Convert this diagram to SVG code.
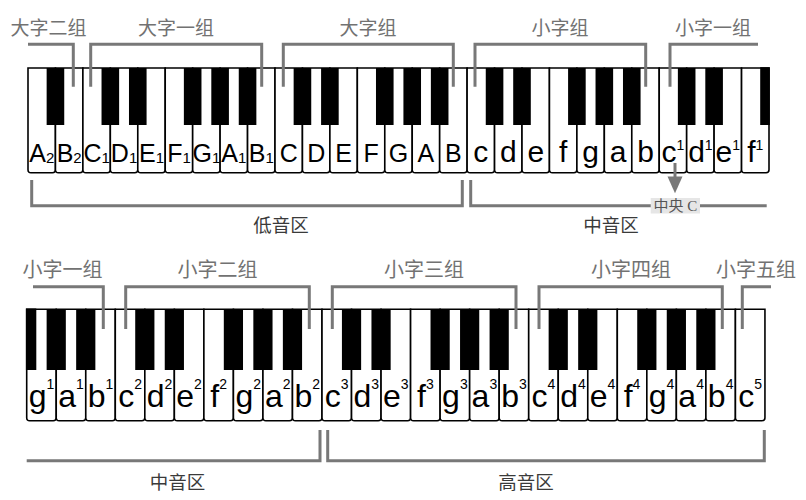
<svg xmlns="http://www.w3.org/2000/svg" xmlns:xlink="http://www.w3.org/1999/xlink" width="806" height="500" viewBox="0 0 806 500">
<style>
.wk{fill:#fff;stroke:#000;stroke-width:1.6}
.bk{fill:#000}
.br{fill:none;stroke:#787878;stroke-width:3}
.grp{font-family:"Noto Sans CJK SC","Noto Sans CJK JP",sans-serif;font-size:19px;fill:#727272;text-anchor:middle}
.grp2{font-size:20px}
.reg{font-family:"Noto Sans CJK SC","Noto Sans CJK JP",sans-serif;font-size:18.5px;fill:#3a3a3a;text-anchor:middle}
.n{font-family:"Liberation Sans","Arial",sans-serif;text-anchor:middle;fill:#000}
.u{font-size:25px}
.l{font-size:30px}
.l2{font-size:32px}
.s{font-size:14px}
.s1{font-size:15px}
</style>
<defs>
<path id="wk1" class="wk" d="M0,0 h27.444 v101.7 q0,3 -3,3 h-21.444 q-3,0 -3,-3 z"/>
<path id="wk2" class="wk" d="M0,0 h29.53 v108.4 q0,3 -3,3 h-23.53 q-3,0 -3,-3 z"/>
<rect id="bk1" class="bk" width="17.6" height="57"/>
<rect id="bk2" class="bk" width="19.2" height="60.7"/>
<linearGradient id="fadeL1" gradientUnits="userSpaceOnUse" x1="26" y1="0" x2="50" y2="0"><stop offset="0" stop-color="#787878" stop-opacity="0.15"/><stop offset="1" stop-color="#787878"/></linearGradient>
<linearGradient id="fadeR1" gradientUnits="userSpaceOnUse" x1="735" y1="0" x2="758" y2="0"><stop offset="0" stop-color="#787878"/><stop offset="1" stop-color="#787878" stop-opacity="0.15"/></linearGradient>
<linearGradient id="fadeL2" gradientUnits="userSpaceOnUse" x1="31" y1="0" x2="56" y2="0"><stop offset="0" stop-color="#787878" stop-opacity="0.15"/><stop offset="1" stop-color="#787878"/></linearGradient>
<linearGradient id="fadeR2" gradientUnits="userSpaceOnUse" x1="748" y1="0" x2="771" y2="0"><stop offset="0" stop-color="#787878"/><stop offset="1" stop-color="#787878" stop-opacity="0.15"/></linearGradient>
</defs>
<rect width="806" height="500" fill="#fff"/>

<g id="keyboard-top">
<g id="top-white-keys">
<use xlink:href="#wk1" x="28" y="68"/><use xlink:href="#wk1" x="55.44" y="68"/><use xlink:href="#wk1" x="82.89" y="68"/><use xlink:href="#wk1" x="110.33" y="68"/><use xlink:href="#wk1" x="137.78" y="68"/><use xlink:href="#wk1" x="165.22" y="68"/><use xlink:href="#wk1" x="192.67" y="68"/><use xlink:href="#wk1" x="220.11" y="68"/><use xlink:href="#wk1" x="247.56" y="68"/><use xlink:href="#wk1" x="275" y="68"/><use xlink:href="#wk1" x="302.44" y="68"/><use xlink:href="#wk1" x="329.89" y="68"/><use xlink:href="#wk1" x="357.33" y="68"/><use xlink:href="#wk1" x="384.78" y="68"/><use xlink:href="#wk1" x="412.22" y="68"/><use xlink:href="#wk1" x="439.67" y="68"/><use xlink:href="#wk1" x="467.11" y="68"/><use xlink:href="#wk1" x="494.56" y="68"/><use xlink:href="#wk1" x="522" y="68"/><use xlink:href="#wk1" x="549.44" y="68"/><use xlink:href="#wk1" x="576.89" y="68"/><use xlink:href="#wk1" x="604.33" y="68"/><use xlink:href="#wk1" x="631.78" y="68"/><use xlink:href="#wk1" x="659.22" y="68"/><use xlink:href="#wk1" x="686.67" y="68"/><use xlink:href="#wk1" x="714.11" y="68"/><use xlink:href="#wk1" x="741.56" y="68"/>
</g>
<g id="top-black-keys">
<use xlink:href="#bk1" x="46.64" y="68"/><use xlink:href="#bk1" x="101.53" y="68"/><use xlink:href="#bk1" x="128.98" y="68"/><use xlink:href="#bk1" x="183.87" y="68"/><use xlink:href="#bk1" x="211.31" y="68"/><use xlink:href="#bk1" x="238.76" y="68"/><use xlink:href="#bk1" x="293.64" y="68"/><use xlink:href="#bk1" x="321.09" y="68"/><use xlink:href="#bk1" x="375.98" y="68"/><use xlink:href="#bk1" x="403.42" y="68"/><use xlink:href="#bk1" x="430.87" y="68"/><use xlink:href="#bk1" x="485.76" y="68"/><use xlink:href="#bk1" x="513.2" y="68"/><use xlink:href="#bk1" x="568.09" y="68"/><use xlink:href="#bk1" x="595.53" y="68"/><use xlink:href="#bk1" x="622.98" y="68"/><use xlink:href="#bk1" x="677.87" y="68"/><use xlink:href="#bk1" x="705.31" y="68"/>
<rect class="bk" x="760.2" y="67.2" width="9.6" height="57.8"/>
</g>
<g id="top-note-names">
<text class="n u" x="41.72" y="162">A<tspan class="s1" dy="1">2</tspan></text>
<text class="n u" x="69.17" y="162">B<tspan class="s1" dy="1">2</tspan></text>
<text class="n u" x="96.61" y="162">C<tspan class="s1" dy="1">1</tspan></text>
<text class="n u" x="124.06" y="162">D<tspan class="s1" dy="1">1</tspan></text>
<text class="n u" x="151.5" y="162">E<tspan class="s1" dy="1">1</tspan></text>
<text class="n u" x="178.94" y="162">F<tspan class="s1" dy="1">1</tspan></text>
<text class="n u" x="206.39" y="162">G<tspan class="s1" dy="1">1</tspan></text>
<text class="n u" x="233.83" y="162">A<tspan class="s1" dy="1">1</tspan></text>
<text class="n u" x="261.28" y="162">B<tspan class="s1" dy="1">1</tspan></text>
<text class="n u" x="288.72" y="162">C</text>
<text class="n u" x="316.17" y="162">D</text>
<text class="n u" x="343.61" y="162">E</text>
<text class="n u" x="371.06" y="162">F</text>
<text class="n u" x="398.5" y="162">G</text>
<text class="n u" x="425.94" y="162">A</text>
<text class="n u" x="453.39" y="162">B</text>
<text class="n l" x="480.83" y="162">c</text>
<text class="n l" x="508.28" y="162">d</text>
<text class="n l" x="535.72" y="162">e</text>
<text class="n l" x="563.17" y="162">f</text>
<text class="n l" x="590.61" y="162">g</text>
<text class="n l" x="618.06" y="162">a</text>
<text class="n l" x="645.5" y="162">b</text>
<text class="n l" x="672.94" y="162">c<tspan class="s" dy="-12">1</tspan></text>
<text class="n l" x="700.39" y="162">d<tspan class="s" dy="-12">1</tspan></text>
<text class="n l" x="727.83" y="162">e<tspan class="s" dy="-12">1</tspan></text>
<text class="n l" x="755.28" y="162">f<tspan class="s" dy="-12">1</tspan></text>
</g>
</g>

<g id="keyboard-bottom">
<g id="bottom-white-keys">
<use xlink:href="#wk2" x="26.7" y="309.3"/><use xlink:href="#wk2" x="56.23" y="309.3"/><use xlink:href="#wk2" x="85.76" y="309.3"/><use xlink:href="#wk2" x="115.29" y="309.3"/><use xlink:href="#wk2" x="144.82" y="309.3"/><use xlink:href="#wk2" x="174.35" y="309.3"/><use xlink:href="#wk2" x="203.88" y="309.3"/><use xlink:href="#wk2" x="233.41" y="309.3"/><use xlink:href="#wk2" x="262.94" y="309.3"/><use xlink:href="#wk2" x="292.47" y="309.3"/><use xlink:href="#wk2" x="322" y="309.3"/><use xlink:href="#wk2" x="351.53" y="309.3"/><use xlink:href="#wk2" x="381.06" y="309.3"/><use xlink:href="#wk2" x="410.59" y="309.3"/><use xlink:href="#wk2" x="440.12" y="309.3"/><use xlink:href="#wk2" x="469.65" y="309.3"/><use xlink:href="#wk2" x="499.18" y="309.3"/><use xlink:href="#wk2" x="528.71" y="309.3"/><use xlink:href="#wk2" x="558.24" y="309.3"/><use xlink:href="#wk2" x="587.77" y="309.3"/><use xlink:href="#wk2" x="617.3" y="309.3"/><use xlink:href="#wk2" x="646.83" y="309.3"/><use xlink:href="#wk2" x="676.36" y="309.3"/><use xlink:href="#wk2" x="705.89" y="309.3"/><use xlink:href="#wk2" x="735.42" y="309.3"/>
</g>
<g id="bottom-black-keys">
<rect class="bk" x="25.9" y="308.5" width="10.4" height="61.5"/>
<use xlink:href="#bk2" x="46.63" y="309.3"/><use xlink:href="#bk2" x="76.16" y="309.3"/><use xlink:href="#bk2" x="135.22" y="309.3"/><use xlink:href="#bk2" x="164.75" y="309.3"/><use xlink:href="#bk2" x="223.81" y="309.3"/><use xlink:href="#bk2" x="253.34" y="309.3"/><use xlink:href="#bk2" x="282.87" y="309.3"/><use xlink:href="#bk2" x="341.93" y="309.3"/><use xlink:href="#bk2" x="371.46" y="309.3"/><use xlink:href="#bk2" x="430.52" y="309.3"/><use xlink:href="#bk2" x="460.05" y="309.3"/><use xlink:href="#bk2" x="489.58" y="309.3"/><use xlink:href="#bk2" x="548.64" y="309.3"/><use xlink:href="#bk2" x="578.17" y="309.3"/><use xlink:href="#bk2" x="637.23" y="309.3"/><use xlink:href="#bk2" x="666.76" y="309.3"/><use xlink:href="#bk2" x="696.29" y="309.3"/>
</g>
<g id="bottom-note-names">
<text class="n l2" x="41.47" y="407">g<tspan class="s" dy="-18">1</tspan></text>
<text class="n l2" x="71" y="407">a<tspan class="s" dy="-18">1</tspan></text>
<text class="n l2" x="100.53" y="407">b<tspan class="s" dy="-18">1</tspan></text>
<text class="n l2" x="130.06" y="407">c<tspan class="s" dy="-18">2</tspan></text>
<text class="n l2" x="159.59" y="407">d<tspan class="s" dy="-18">2</tspan></text>
<text class="n l2" x="189.12" y="407">e<tspan class="s" dy="-18">2</tspan></text>
<text class="n l2" x="218.65" y="407">f<tspan class="s" dy="-18">2</tspan></text>
<text class="n l2" x="248.18" y="407">g<tspan class="s" dy="-18">2</tspan></text>
<text class="n l2" x="277.71" y="407">a<tspan class="s" dy="-18">2</tspan></text>
<text class="n l2" x="307.24" y="407">b<tspan class="s" dy="-18">2</tspan></text>
<text class="n l2" x="336.77" y="407">c<tspan class="s" dy="-18">3</tspan></text>
<text class="n l2" x="366.3" y="407">d<tspan class="s" dy="-18">3</tspan></text>
<text class="n l2" x="395.83" y="407">e<tspan class="s" dy="-18">3</tspan></text>
<text class="n l2" x="425.36" y="407">f<tspan class="s" dy="-18">3</tspan></text>
<text class="n l2" x="454.89" y="407">g<tspan class="s" dy="-18">3</tspan></text>
<text class="n l2" x="484.42" y="407">a<tspan class="s" dy="-18">3</tspan></text>
<text class="n l2" x="513.95" y="407">b<tspan class="s" dy="-18">3</tspan></text>
<text class="n l2" x="543.48" y="407">c<tspan class="s" dy="-18">4</tspan></text>
<text class="n l2" x="573.01" y="407">d<tspan class="s" dy="-18">4</tspan></text>
<text class="n l2" x="602.54" y="407">e<tspan class="s" dy="-18">4</tspan></text>
<text class="n l2" x="632.07" y="407">f<tspan class="s" dy="-18">4</tspan></text>
<text class="n l2" x="661.6" y="407">g<tspan class="s" dy="-18">4</tspan></text>
<text class="n l2" x="691.13" y="407">a<tspan class="s" dy="-18">4</tspan></text>
<text class="n l2" x="720.66" y="407">b<tspan class="s" dy="-18">4</tspan></text>
<text class="n l2" x="750.19" y="407">c<tspan class="s" dy="-18">5</tspan></text>
</g>
</g>

<g id="connectors">
<path class="br" d="M28,44.3 H73.3 V86.7" stroke="url(#fadeL1)"/>
<path class="br" d="M90.7,86.7 V44.3 H261.7 V86.7"/>
<path class="br" d="M283.3,86.7 V44.3 H453.3 V86.7"/>
<path class="br" d="M475,86.7 V44.3 H645.7 V86.7"/>
<path class="br" d="M670,86.7 V44.3 H758" stroke="url(#fadeR1)"/>
<path class="br" d="M31.7,180 V205.7 H462.3 V180"/>
<path class="br" d="M470.7,180 V205.7 H766.7"/>
<path class="br" d="M675,163 V178"/>
<polygon points="667.5,176.5 682.5,176.5 675,193.3" fill="#787878"/>
<path class="br" d="M33,286.7 H103.3 V329" stroke="url(#fadeL2)"/>
<path class="br" d="M125.7,329 V286.7 H309.3 V329"/>
<path class="br" d="M332.3,329 V286.7 H516 V329"/>
<path class="br" d="M539,329 V286.7 H722.3 V329"/>
<path class="br" d="M742.3,329 V286.7 H771" stroke="url(#fadeR2)"/>
<path class="br" d="M26.7,460.7 H320 V430"/>
<path class="br" d="M327.7,430 V460.7 H764.3 V430"/>
</g>

<g id="label-dazi-erzu"><text class="grp" x="48.5" y="35">大字二组</text></g>
<g id="label-dazi-yizu"><text class="grp" x="176" y="35">大字一组</text></g>
<g id="label-dazi-zu"><text class="grp" x="368" y="35">大字组</text></g>
<g id="label-xiaozi-zu"><text class="grp" x="560" y="35">小字组</text></g>
<g id="label-xiaozi-yizu-top"><text class="grp" x="713" y="35">小字一组</text></g>
<g id="label-diyin"><text class="reg" x="281" y="232">低音区</text></g>
<g id="label-zhongyin-top"><text class="reg" x="611" y="232">中音区</text></g>
<g id="label-middle-c">
<rect x="650.7" y="198" width="49.3" height="15.5" fill="#e6e6e6"/>
<text x="675.3" y="211" font-family="Liberation Serif,Noto Sans CJK SC,serif" font-size="15" fill="#555" text-anchor="middle">中央 C</text>
</g>
<g id="label-xiaozi-yizu"><text class="grp grp2" x="62.5" y="277">小字一组</text></g>
<g id="label-xiaozi-erzu"><text class="grp grp2" x="217.5" y="277">小字二组</text></g>
<g id="label-xiaozi-sanzu"><text class="grp grp2" x="424" y="277">小字三组</text></g>
<g id="label-xiaozi-sizu"><text class="grp grp2" x="631" y="277">小字四组</text></g>
<g id="label-xiaozi-wuzu"><text class="grp grp2" x="756" y="277">小字五组</text></g>
<g id="label-zhongyin-bottom"><text class="reg" x="177.5" y="489">中音区</text></g>
<g id="label-gaoyin"><text class="reg" x="526" y="489">高音区</text></g>
</svg>
